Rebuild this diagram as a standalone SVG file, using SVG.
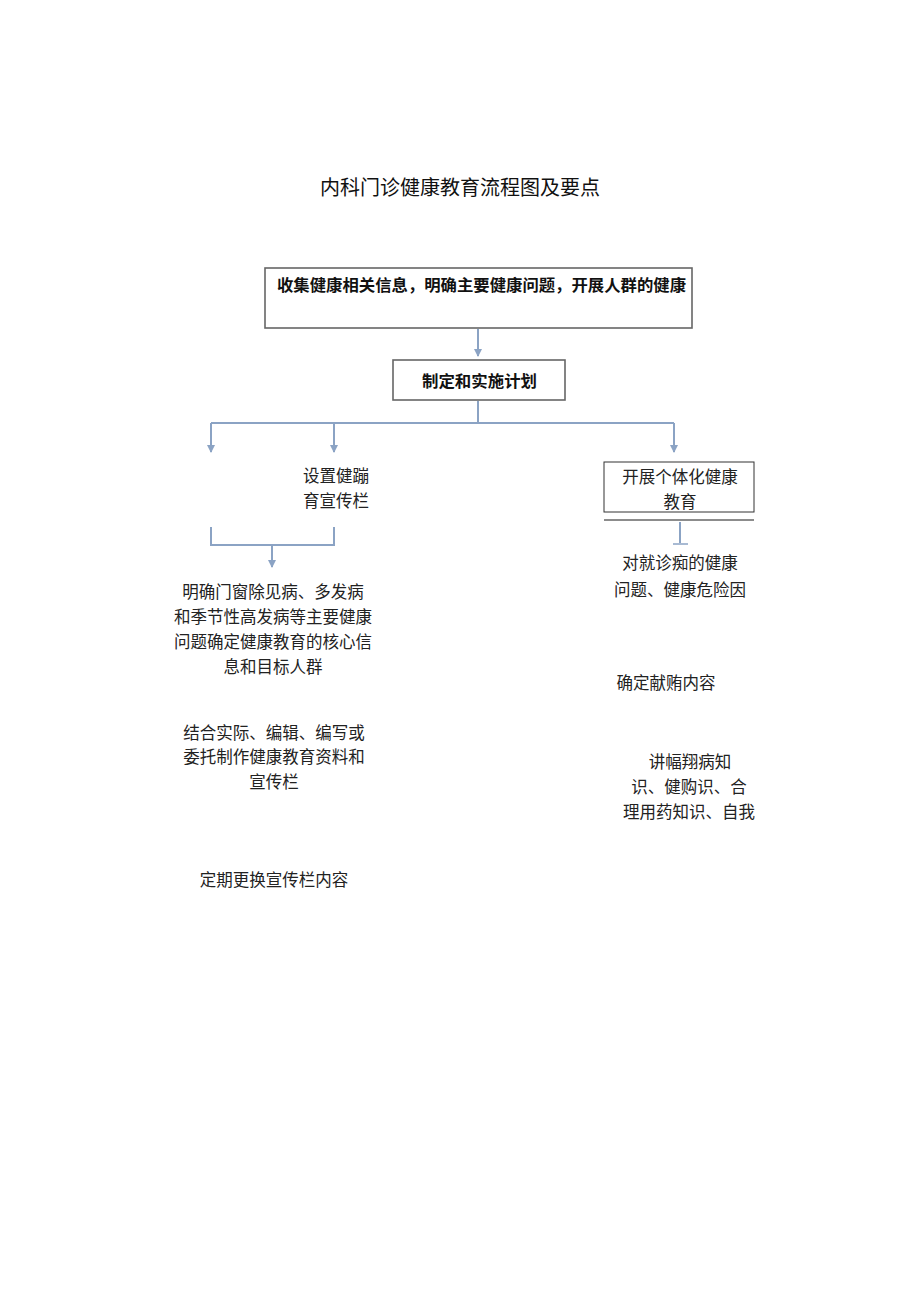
<svg xmlns="http://www.w3.org/2000/svg" width="920" height="1301" viewBox="0 0 920 1301">
<style>
text{font-family:"Liberation Serif","Noto Sans CJK SC",serif;fill:#222;}
.t{font-size:16.5px;text-anchor:middle;}
.b{font-size:16px;font-weight:bold;fill:#111;}
.box{fill:#fff;stroke:#666;stroke-width:1.6;}
.box2{fill:#fff;stroke:#333;stroke-width:1;}
.c{fill:none;stroke:#8ba3c4;stroke-width:2;}
</style>
<defs>
<marker id="ah" markerWidth="8" markerHeight="8" refX="7" refY="4" orient="auto" markerUnits="userSpaceOnUse" viewBox="0 0 8 8">
<path d="M0,0 L8,4 L0,8 Z" fill="#8ba3c4"/>
</marker>
</defs>
<rect width="920" height="1301" fill="#fff"/>
<text x="460" y="195" style="font-size:20px;text-anchor:middle;fill:#111">内科门诊健康教育流程图及要点</text>

<g id="connectors">
<line class="c" x1="478" y1="329" x2="478" y2="356" marker-end="url(#ah)"/>
<line class="c" x1="478" y1="401" x2="478" y2="423"/>
<line class="c" x1="211" y1="423" x2="674" y2="423"/>
<line class="c" x1="211" y1="423" x2="211" y2="452" marker-end="url(#ah)"/>
<line class="c" x1="334" y1="423" x2="334" y2="452" marker-end="url(#ah)"/>
<line class="c" x1="674" y1="423" x2="674" y2="452" marker-end="url(#ah)"/>
<polyline class="c" points="211,527 211,545 334,545 334,527"/>
<line class="c" x1="272" y1="545" x2="272" y2="567" marker-end="url(#ah)"/>
<line x1="604" y1="520" x2="754" y2="520" stroke="#666" stroke-width="1.5"/>
<line x1="680" y1="522" x2="680" y2="543" stroke="#8ba3c4" stroke-width="2"/>
<line x1="673" y1="544" x2="688" y2="544" stroke="#8ba3c4" stroke-width="1.5"/>
</g>

<g id="n1">
<rect class="box" x="265" y="268" width="427" height="60"/>
<text class="b" x="277" y="291" textLength="409" lengthAdjust="spacingAndGlyphs">收集健康相关信息，明确主要健康问题，开展人群的健康</text>
</g>
<g id="n2">
<rect class="box" x="393" y="360" width="172" height="40"/>
<text class="b" x="422" y="387" textLength="115" lengthAdjust="spacingAndGlyphs">制定和实施计划</text>
</g>
<g id="n3">
<text class="t" x="336" y="482">设置健蹦</text>
<text class="t" x="336" y="507">育宣传栏</text>
</g>
<g id="n4">
<rect class="box2" x="604" y="462" width="150" height="50"/>
<text class="t" x="680" y="483">开展个体化健康</text>
<text class="t" x="680" y="508">教育</text>
</g>
<g id="n5">
<text class="t" x="273" y="598">明确门窗除见病、多发病</text>
<text class="t" x="273" y="623">和季节性高发病等主要健康</text>
<text class="t" x="273" y="648">问题确定健康教育的核心信</text>
<text class="t" x="273" y="673">息和目标人群</text>
</g>
<g id="n6">
<text class="t" x="274" y="739">结合实际、编辑、编写或</text>
<text class="t" x="274" y="763">委托制作健康教育资料和</text>
<text class="t" x="274" y="788">宣传栏</text>
</g>
<g id="n7">
<text class="t" x="274" y="886">定期更换宣传栏内容</text>
</g>
<g id="n8">
<text class="t" x="680" y="569">对就诊痴的健康</text>
<text class="t" x="680" y="596">问题、健康危险因</text>
</g>
<g id="n9">
<text class="t" x="666" y="689">确定献贿内容</text>
</g>
<g id="n10">
<text class="t" x="690" y="768">讲幅翔病知</text>
<text class="t" x="689" y="793">识、健购识、合</text>
<text class="t" x="689" y="818">理用药知识、自我</text>
</g>
</svg>
